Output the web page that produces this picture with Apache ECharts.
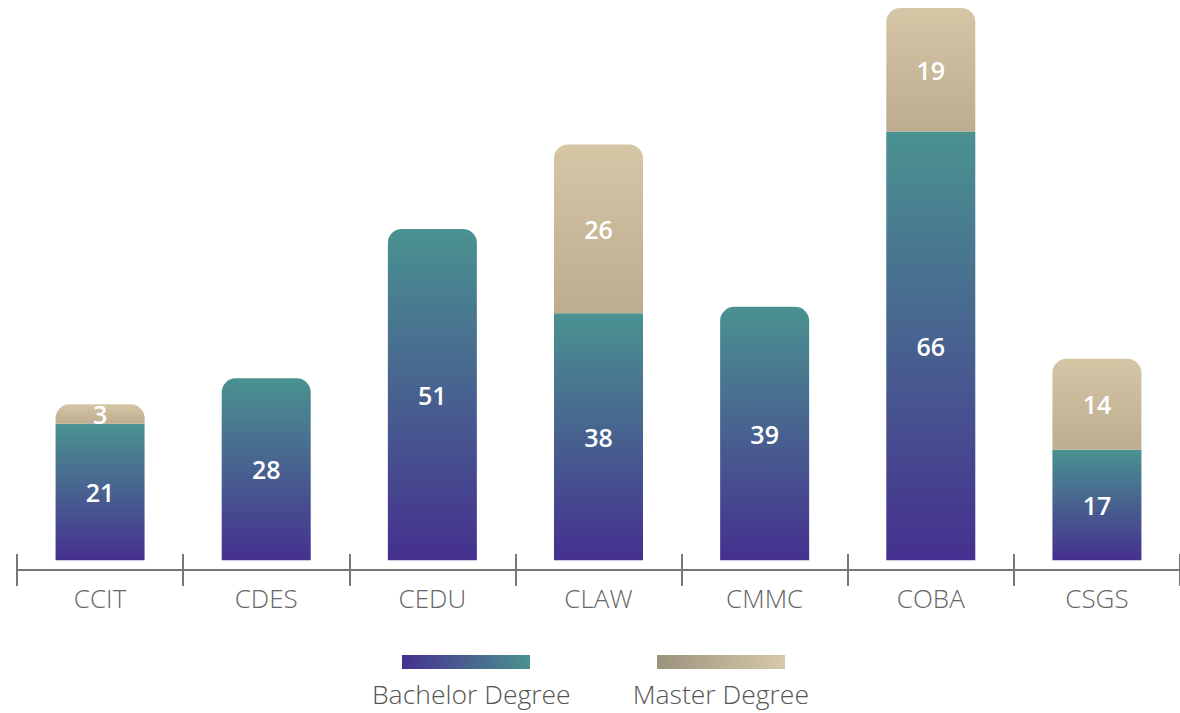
<!DOCTYPE html>
<html>
<head>
<meta charset="utf-8">
<script src="https://cdn.jsdelivr.net/npm/echarts@6/dist/echarts.min.js"></script>
<style>
html,body{margin:0;padding:0;background:#fff;}
#chart{width:1180px;height:713px;}
</style>
</head>
<body>
<div id="chart"></div>
<script>
const categories = ['CCIT', 'CDES', 'CEDU', 'CLAW', 'CMMC', 'COBA', 'CSGS'];
const bachelor = [21, 28, 51, 38, 39, 66, 17];
const master = [3, null, null, 26, null, 19, 14];
const seriesNames = ['Bachelor Degree', 'Master Degree'];

const font = '"Open Sans", "Noto Sans", sans-serif';
const vGrad = (top, bottom) => new echarts.graphic.LinearGradient(0, 0, 0, 1, [
  { offset: 0, color: top }, { offset: 1, color: bottom }
]);
const hGrad = (left, right) => new echarts.graphic.LinearGradient(0, 0, 1, 0, [
  { offset: 0, color: left }, { offset: 1, color: right }
]);
const R = 14;

const chart = echarts.init(document.getElementById('chart'), null, { renderer: 'svg' });

const labelStyle = {
  show: true,
  position: 'inside',
  color: '#ffffff',
  fontSize: 25,
  fontWeight: 600,
  fontFamily: font
};

chart.setOption({
  animation: false,
  grid: { left: 17, right: -3, top: 8, bottom: 143, containLabel: false },
  legend: [
    {
      selectedMode: false,
      left: 397, top: 650,
      itemWidth: 128, itemHeight: 14, itemGap: 127,
      icon: 'rect',
      formatter: () => '',
      data: [
        { name: seriesNames[0], itemStyle: { color: hGrad('#45308f', '#4a9290') } },
        { name: seriesNames[1], itemStyle: { color: hGrad('#9c937e', '#d7c9a9') } }
      ]
    },
    {
      selectedMode: false,
      left: 362, top: 675,
      itemWidth: 0, itemHeight: 0, itemGap: 57,
      icon: 'rect',
      textStyle: { color: '#555555', fontSize: 26.5, fontFamily: font, fontWeight: 300 },
      data: seriesNames
    }
  ],
  xAxis: [
    {
      type: 'category',
      data: categories,
      axisLine: { onZero: false, lineStyle: { color: '#777777', width: 2 } },
      axisTick: { show: true, length: 16, lineStyle: { color: '#777777', width: 2 } },
      axisLabel: { color: '#666666', fontSize: 26, fontFamily: font, fontWeight: 300, margin: 15 }
    },
    {
      type: 'category',
      data: categories,
      position: 'bottom',
      axisLine: { show: false, onZero: false },
      axisTick: { show: true, inside: true, length: 16, lineStyle: { color: '#777777', width: 2 } },
      axisLabel: { show: false }
    }
  ],
  yAxis: { type: 'value', min: -1.5, max: 85, show: false, splitLine: { show: false } },
  series: [
    {
      name: seriesNames[0],
      type: 'bar',
      stack: 'total',
      barWidth: 89,
      xAxisIndex: 0,
      itemStyle: { color: vGrad('#4a9290', '#45308f') },
      label: labelStyle,
      data: bachelor.map((v, i) => ({
        value: v,
        itemStyle: { borderRadius: master[i] ? 0 : [R, R, 0, 0] }
      }))
    },
    {
      name: seriesNames[1],
      type: 'bar',
      stack: 'total',
      barWidth: 89,
      xAxisIndex: 0,
      itemStyle: { color: vGrad('#d5c6a6', '#bdac8f'), borderRadius: [R, R, 0, 0] },
      label: labelStyle,
      data: master
    }
  ]
});
</script>
</body>
</html>
